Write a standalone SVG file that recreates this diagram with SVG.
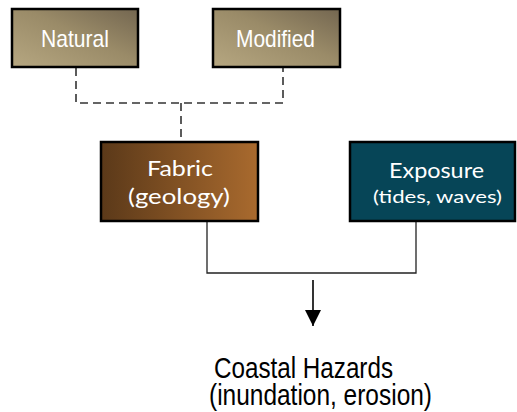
<svg xmlns="http://www.w3.org/2000/svg" width="517" height="412" viewBox="0 0 517 412">
<defs>
<linearGradient id="tan" x1="0" y1="1" x2="1" y2="0">
<stop offset="0" stop-color="#b6a781"/>
<stop offset="0.55" stop-color="#9a8b68"/>
<stop offset="1" stop-color="#736650"/>
</linearGradient>
<linearGradient id="brown" x1="0" y1="0" x2="1" y2="0">
<stop offset="0" stop-color="#5b3919"/>
<stop offset="1" stop-color="#a96a2e"/>
</linearGradient>
<marker id="arr" viewBox="0 0 16 20" refX="16" refY="10" markerWidth="16" markerHeight="20" markerUnits="userSpaceOnUse" orient="auto">
<path d="M0,2 L16,10 L0,18 Z" fill="#000"/>
</marker>
<style>
.box{stroke:#000;stroke-width:2.5}
.wt{fill:#fff;font-family:"Liberation Sans",Arial,sans-serif;font-size:24px}
.gt{fill:#fff;font-family:Lato,"Open Sans",sans-serif}
.bt{fill:#000;font-family:"Liberation Sans",Arial,sans-serif;font-size:30px}
.dash{fill:none;stroke:#333;stroke-width:1.6;stroke-dasharray:8 5}
.solid{fill:none;stroke:#222;stroke-width:1.3}
</style>
</defs>
<g id="connectors">
<polyline class="dash" points="76,68 76,103 283,103 283,68"/>
<line class="dash" x1="181" y1="103" x2="181" y2="142"/>
<polyline class="solid" points="207,221 207,273 416,273 416,221"/>
<line x1="313" y1="280" x2="313" y2="326" stroke="#000" stroke-width="1.6" marker-end="url(#arr)"/>
</g>
<g id="natural">
<rect class="box" x="12" y="9" width="126" height="58" fill="url(#tan)"/>
<text class="wt" x="41" y="47" textLength="68" lengthAdjust="spacingAndGlyphs">Natural</text>
</g>
<g id="modified">
<rect class="box" x="213" y="9" width="127" height="58" fill="url(#tan)"/>
<text class="wt" x="236" y="47" textLength="79" lengthAdjust="spacingAndGlyphs">Modified</text>
</g>
<g id="fabric">
<rect class="box" x="101" y="142" width="157" height="79" fill="url(#brown)"/>
<text class="gt" x="147" y="176" font-size="22" textLength="66" lengthAdjust="spacingAndGlyphs">Fabric</text>
<text class="gt" x="128" y="204" font-size="22" textLength="102" lengthAdjust="spacingAndGlyphs">(geology)</text>
</g>
<g id="exposure">
<rect class="box" x="350" y="142" width="165" height="79" fill="#064557"/>
<text class="gt" x="389" y="178" font-size="22" textLength="95" lengthAdjust="spacingAndGlyphs">Exposure</text>
<text class="gt" x="373" y="203" font-size="18" textLength="129" lengthAdjust="spacingAndGlyphs">(tides, waves)</text>
</g>
<g id="hazards">
<text class="bt" x="214" y="378" textLength="179" lengthAdjust="spacingAndGlyphs">Coastal Hazards</text>
<text class="bt" x="209" y="405" textLength="223" lengthAdjust="spacingAndGlyphs">(inundation, erosion)</text>
</g>
</svg>
